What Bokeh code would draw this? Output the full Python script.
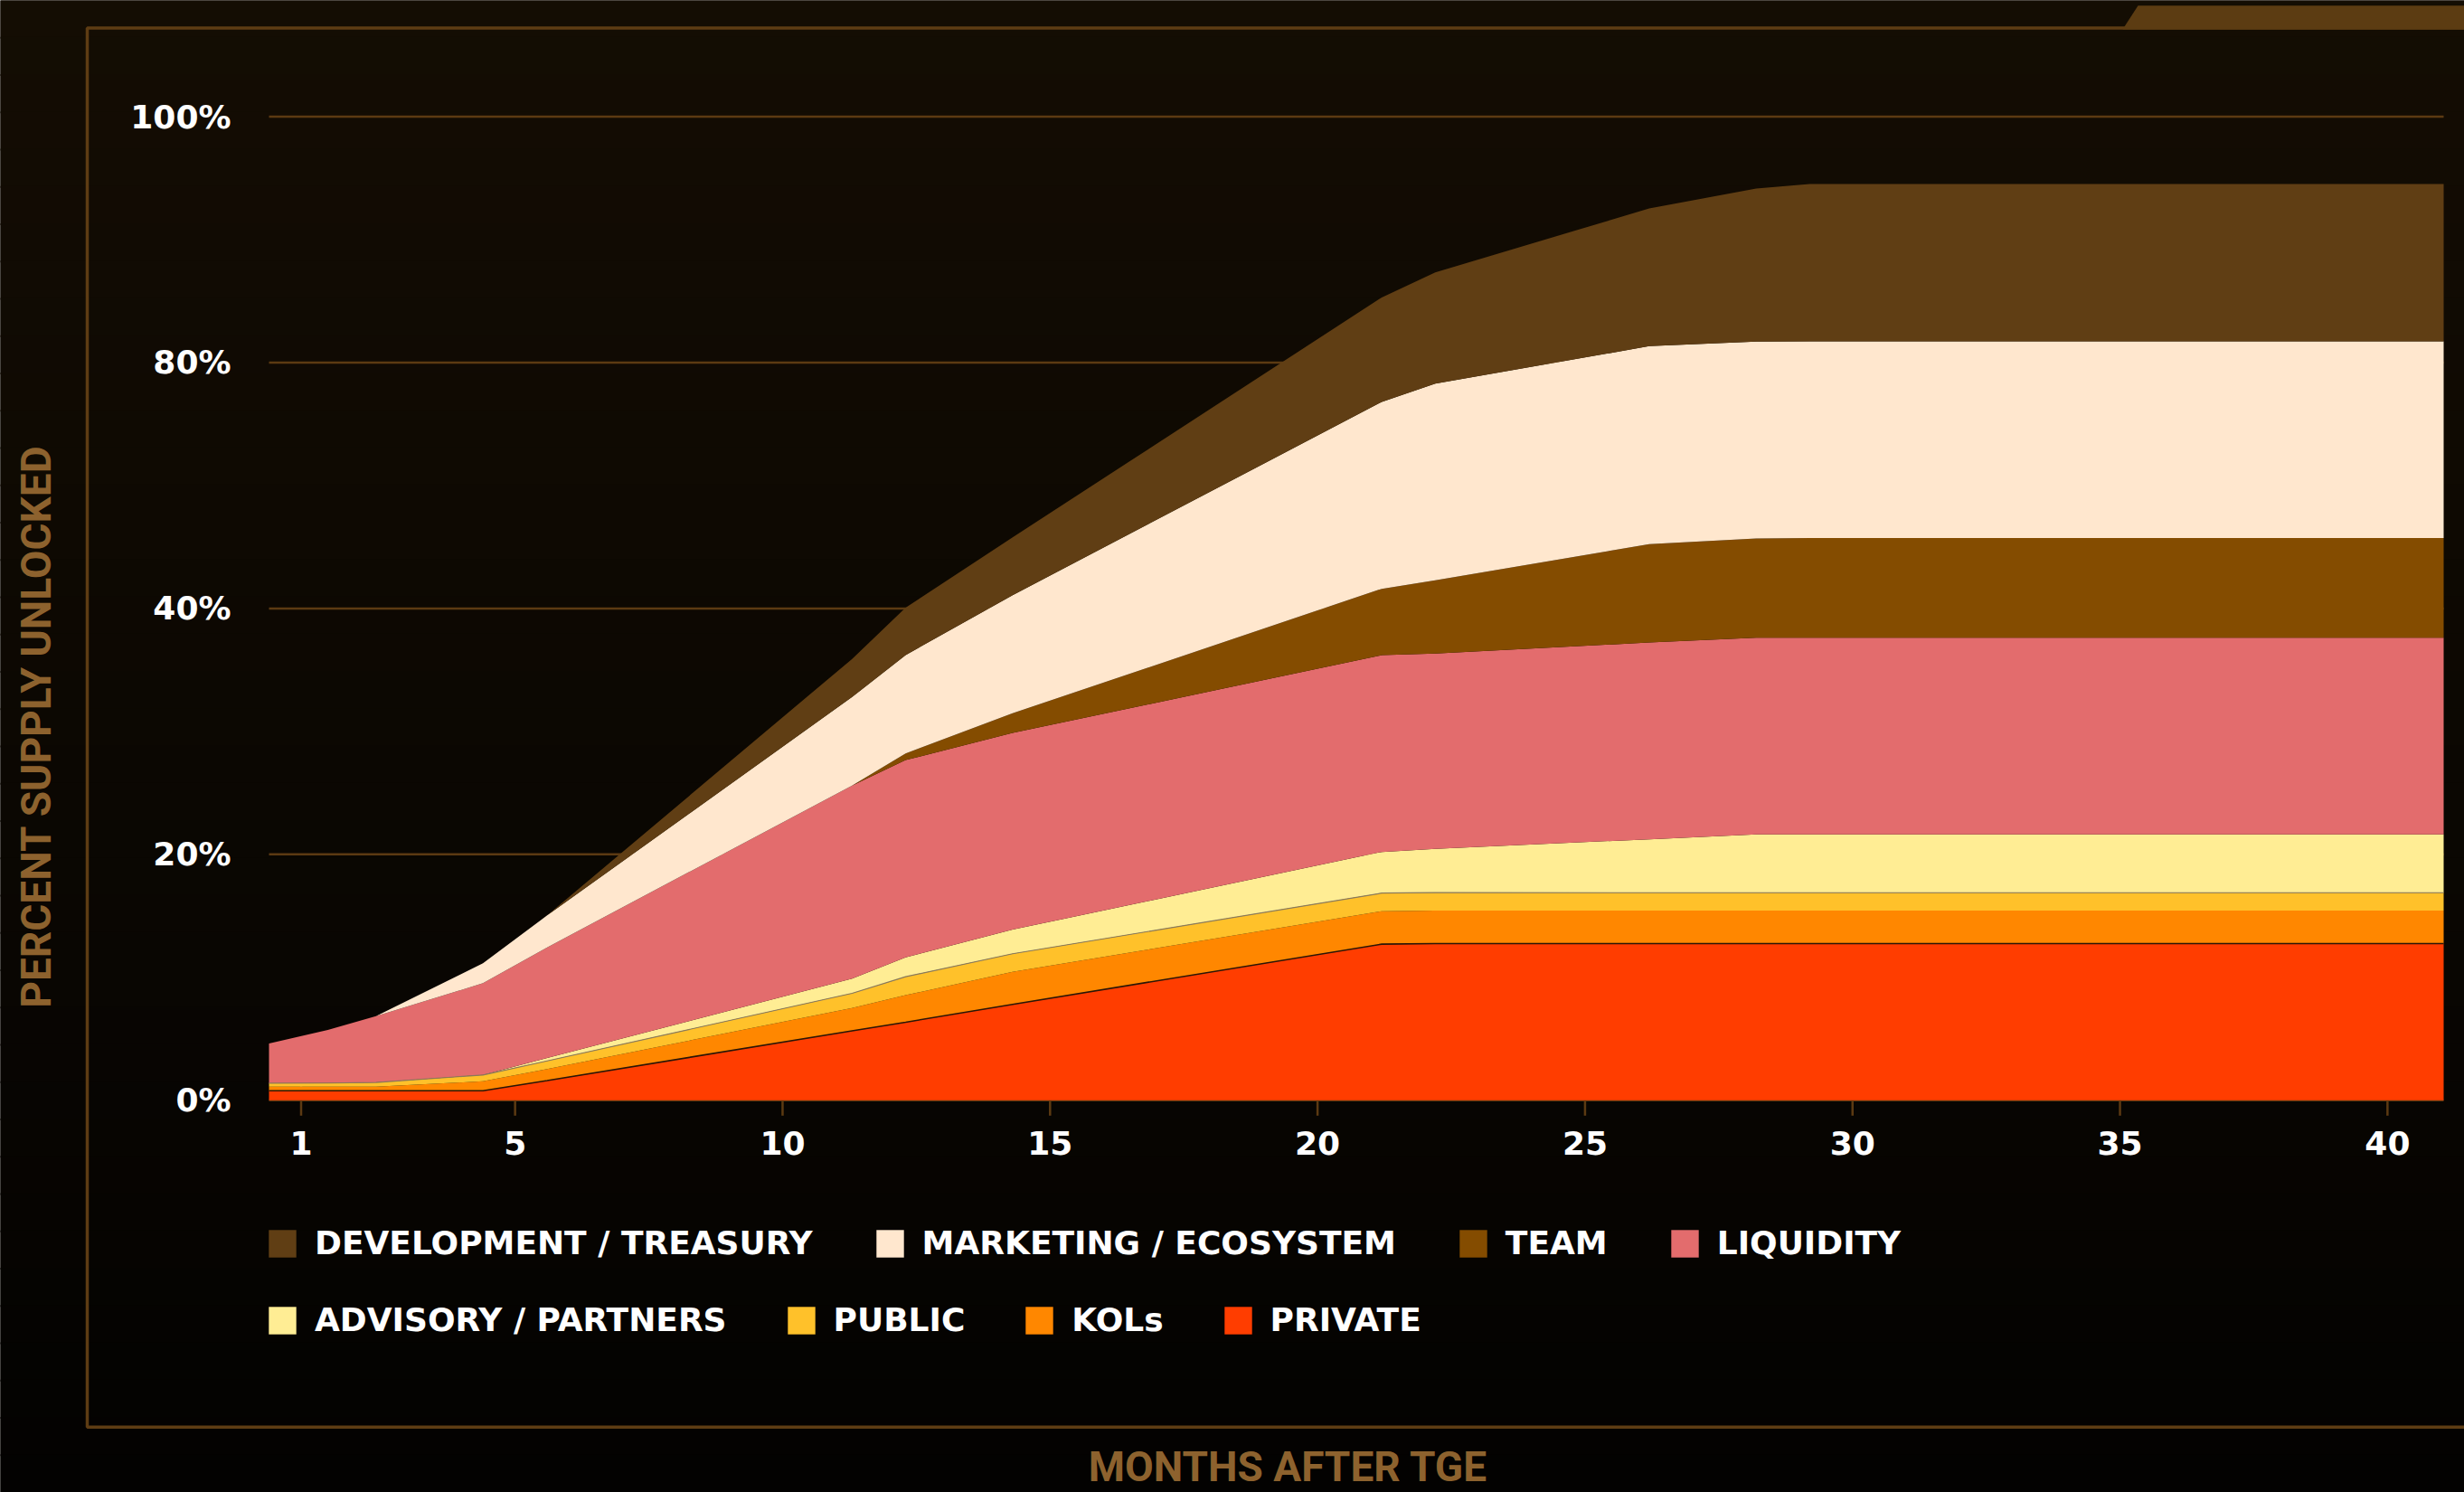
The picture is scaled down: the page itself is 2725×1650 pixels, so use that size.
from math import pi
from bokeh.plotting import figure
from bokeh.models import (ColumnDataSource, Range1d, Legend, LegendItem,
                          BoxAnnotation, PolyAnnotation, Label)
from bokeh.core.properties import value
from bokeh.transform import stack
from bokeh.embed import file_html
from bokeh.resources import INLINE

# ---------------- data ----------------
months    = [0.4, 1.5, 2.4, 4.4, 5.6, 11.3, 12.3, 14.3, 21.2, 22.2, 26.2, 28.2, 29.2, 41.05]
private   = [0.78, 0.78, 0.78, 0.78, 1.6, 5.65, 6.35, 7.8, 12.7, 12.75, 12.75, 12.75, 12.75, 12.75]
kols      = [0.32, 0.32, 0.32, 0.76, 0.95, 1.85, 2.2, 2.65, 2.68, 2.68, 2.68, 2.68, 2.68, 2.68]
public    = [0.29, 0.30, 0.35, 0.52, 0.65, 1.2, 1.5, 1.47, 1.47, 1.46, 1.45, 1.45, 1.45, 1.45]
advisory  = [0, 0, 0, 0, 0.24, 1.2, 1.57, 1.96, 3.35, 3.55, 4.35, 4.74, 4.75, 4.75]
liquidity = [3.22, 4.33, 5.39, 7.46, 9.0, 15.7, 16.05, 16.0, 16.0, 15.9, 16.0, 16.0, 16.0, 16.0]
team      = [0, 0, 0, 0, 0, 0, 0.54, 1.6, 5.4, 5.95, 8.0, 8.08, 8.1, 8.1]
marketing = [0, 0, 0, 1.62, 2.6, 7.2, 8.0, 9.6, 15.2, 16.0, 16.1, 16.0, 16.0, 16.0]
dev       = [0, 0, 0, 0, 0, 3.1, 3.85, 4.7, 8.5, 9.05, 11.2, 12.45, 12.8, 12.8]

series_keys   = ["private", "kols", "public", "advisory", "liquidity", "team", "marketing", "dev"]
series_labels = ["PRIVATE", "KOLs", "PUBLIC", "ADVISORY / PARTNERS", "LIQUIDITY", "TEAM",
                 "MARKETING / ECOSYSTEM", "DEVELOPMENT / TREASURY"]
series_colors = ["#ff3d00", "#ff8700", "#ffc12a", "#ffed94", "#e36c6d", "#844c00", "#ffe7ce", "#603e14"]
legend_row1 = ["dev", "marketing", "team", "liquidity"]
legend_row2 = ["advisory", "public", "kols", "private"]

x_ticks = [1, 5, 10, 15, 20, 25, 30, 35, 40]
x_tick_labels = ["1", "5", "10", "15", "20", "25", "30", "35", "40"]
y_ticks = [0, 20, 40, 60, 80]
y_tick_labels = ["0%", "20%", "40%", "80%", "100%"]

x_title = "MONTHS AFTER TGE"
y_title = "PERCENT SUPPLY UNLOCKED"

# ---------------- layout constants (canvas pixels) ----------------
W, H = 2725, 1650
FL, FR = 297.0, 2702.0          # left / right of the data area
FB, FTOP = 1216.3, 128.5        # canvas y of value 0 and of the top grid line
BROWN = "#5c3a12"
TITLE_C = "#8d622e"
FONT = "DejaVu Sans"

x_lo, x_hi = months[0], months[-1]
ppx = (FR - FL) / (x_hi - x_lo)
ppy = (FB - FTOP) / y_ticks[-1]

def sy(y):  # canvas y (down) -> screen y (up), frame == whole canvas
    return H - y

src = ColumnDataSource(dict(x=months, private=private, kols=kols, public=public,
                            advisory=advisory, liquidity=liquidity, team=team,
                            marketing=marketing, dev=dev))

p = figure(width=W, height=H, output_backend="svg", toolbar_location=None,
           x_axis_type=None, y_axis_type=None,
           x_range=Range1d(x_lo - FL / ppx, x_hi + (W - FR) / ppx),
           y_range=Range1d(-(H - FB) / ppy, FB / ppy),
           min_border=0, background_fill_color="#0c0803", border_fill_color="#0c0803",
           outline_line_color=None)

# ---------------- background gradient (bands, below everything) ----------------
top_c = (20, 13, 3)
bot_c = (3, 2, 1)
nb = 40
for i in range(nb):
    y0 = H * i / nb - 1
    y1 = H * (i + 1) / nb + 1
    t = (i + 0.5) / nb
    c = tuple(int(round(top_c[k] + (bot_c[k] - top_c[k]) * t)) for k in range(3))
    p.add_layout(BoxAnnotation(left=-5, right=W + 5, top=sy(y0), bottom=sy(y1),
                               left_units="screen", right_units="screen",
                               top_units="screen", bottom_units="screen",
                               fill_color="#%02x%02x%02x" % c, fill_alpha=1.0, line_alpha=0,
                               level="image"))

# ---------------- decorative frame and tab ----------------
p.add_layout(BoxAnnotation(left=96, right=2820, top=sy(30.5), bottom=sy(1577.7),
                           left_units="screen", right_units="screen",
                           top_units="screen", bottom_units="screen",
                           fill_alpha=0, line_color="#5e3c13", line_alpha=1.0,
                           line_width=3.5, level="image"))
p.add_layout(PolyAnnotation(xs=[2347, 2364, 2800, 2800],
                            ys=[sy(32), sy(5.7), sy(5.7), sy(32)],
                            xs_units="screen", ys_units="screen",
                            fill_color="#5c3c12", fill_alpha=1.0, line_alpha=0, level="image"))

# ---------------- grid lines (under the areas) ----------------
p.segment(x0=[x_lo] * len(y_ticks), x1=[x_hi] * len(y_ticks), y0=y_ticks, y1=y_ticks,
          line_color=BROWN, line_width=2.5)

# ---------------- tick marks (under the areas) ----------------
p.scatter(x=x_ticks, y=[0] * len(x_ticks), marker="dash", angle=pi / 2, size=34,
          line_color=BROWN, line_width=2.5)

# ---------------- stacked areas ----------------
rs = p.varea_stack(stackers=series_keys, x="x", color=series_colors, source=src)
p.line(x="x", y=stack("private"), source=src, line_color="#2a1606", line_width=1.6)
p.line(x="x", y=stack("private", "kols", "public"), source=src, line_color="#8a7a5a", line_width=1.2)

# ---------------- tick labels (positioned through the scales) ----------------
p.text(x=x_ticks, y=[0] * len(x_ticks), text=x_tick_labels, y_offset=47,
       text_align="center", text_baseline="middle", text_font=value(FONT),
       text_font_style="bold", text_font_size="36px", text_color="#ffffff")
p.text(x=[x_lo] * len(y_ticks), y=y_ticks, text=y_tick_labels, x_offset=-42,
       text_align="right", text_baseline="middle", text_font=value(FONT),
       text_font_style="bold", text_font_size="36px", text_color="#ffffff")

# ---------------- legends (two rows) ----------------
rmap = dict(zip(series_keys, rs))
lmap = dict(zip(series_keys, series_labels))
for keys, bottom_y, spacing in [(legend_row1, 1395, 66), (legend_row2, 1480, 63)]:
    leg = Legend(items=[LegendItem(label=lmap[k], renderers=[rmap[k]]) for k in keys],
                 location=(FL - 4, sy(bottom_y)), orientation="horizontal",
                 background_fill_alpha=0, border_line_alpha=0,
                 padding=0, margin=0, spacing=spacing,
                 glyph_width=38, glyph_height=38, label_standoff=17,
                 label_text_font=FONT, label_text_font_style="bold",
                 label_text_font_size="36px", label_text_color="#ffffff")
    p.add_layout(leg, "center")

# ---------------- axis titles ----------------
p.add_layout(Label(x=39, y=sy(803), x_units="screen", y_units="screen",
                   text=y_title, angle=pi / 2, text_align="center", text_baseline="middle",
                   text_font="Roboto", text_font_style="bold", text_font_size="46px",
                   text_color=TITLE_C))
p.add_layout(Label(x=1424, y=sy(1621), x_units="screen", y_units="screen",
                   text=x_title, text_align="center", text_baseline="middle",
                   text_font="Roboto", text_font_style="bold", text_font_size="46px",
                   text_color=TITLE_C))

open("out.html", "w").write(file_html(p, INLINE))
